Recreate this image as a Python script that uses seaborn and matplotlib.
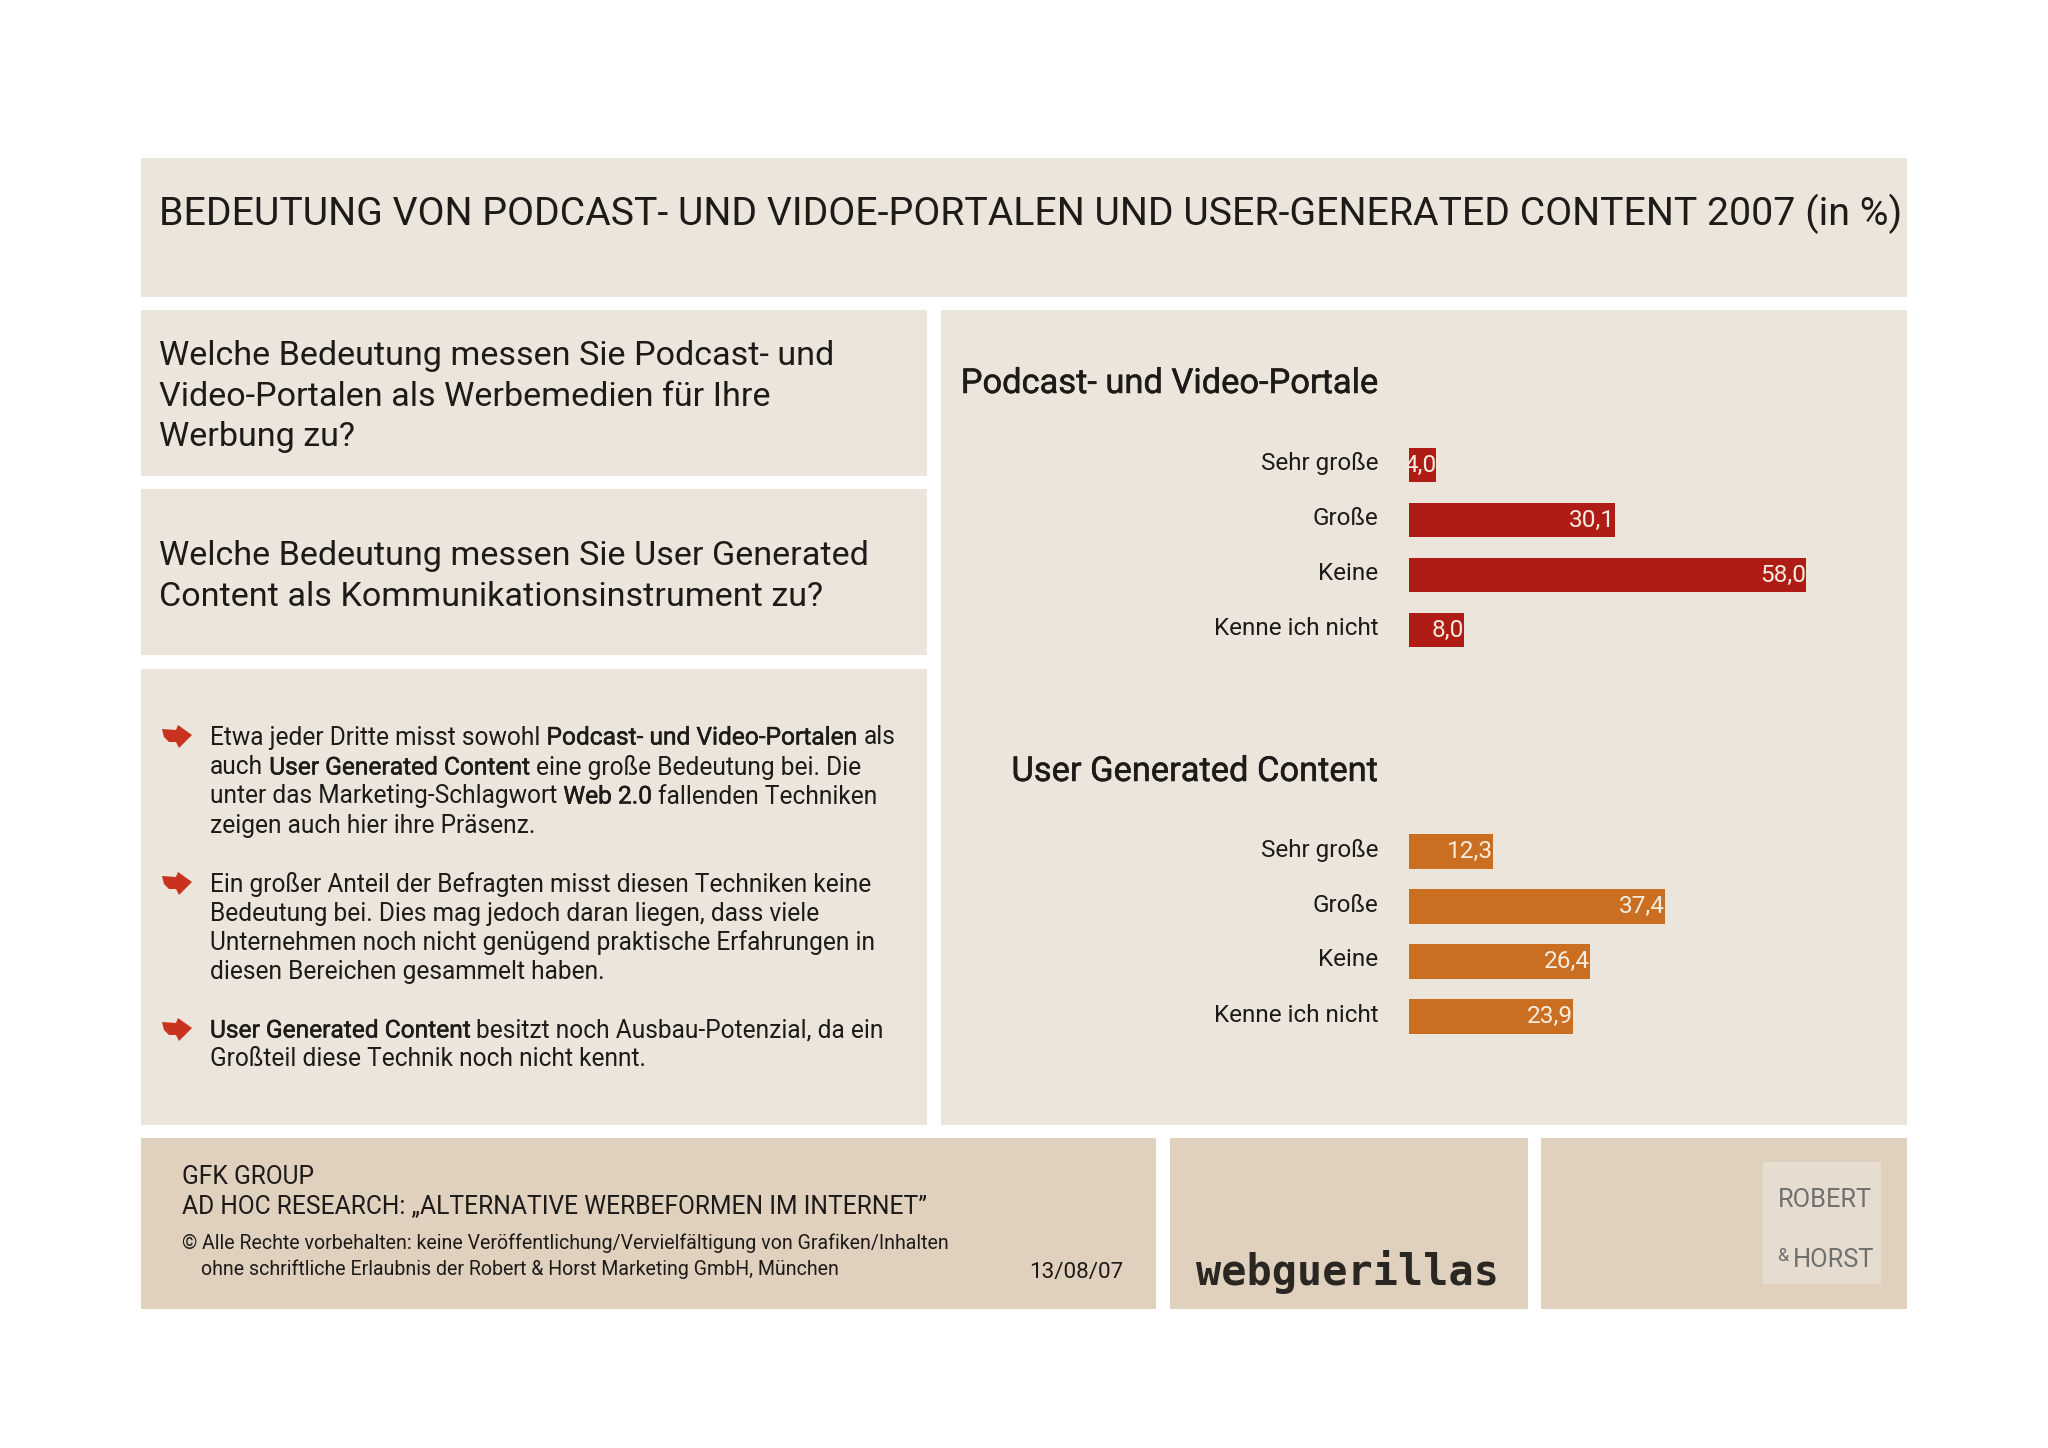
import matplotlib
matplotlib.use("Agg")
import matplotlib.pyplot as plt
import matplotlib.patheffects as pe
import seaborn as sns
import pandas as pd
from matplotlib.patches import Rectangle, Polygon
from matplotlib.transforms import ScaledTranslation

categories = ["Sehr große", "Große", "Keine", "Kenne ich nicht"]
podcast_values = [4.0, 30.1, 58.0, 8.0]
ugc_values = [12.3, 37.4, 26.4, 23.9]
podcast_title = "Podcast- und Video-Portale"
ugc_title = "User Generated Content"
chart_title = "BEDEUTUNG VON PODCAST- UND VIDOE-PORTALEN UND USER-GENERATED CONTENT 2007 (in %)"
question_1 = ["Welche Bedeutung messen Sie Podcast- und", "Video-Portalen als Werbemedien für Ihre", "Werbung zu?"]
question_2 = ["Welche Bedeutung messen Sie User Generated", "Content als Kommunikationsinstrument zu?"]
body_lines = [
    (737.5, [("Etwa jeder Dritte misst sowohl", 0), ("Podcast- und Video-Portalen", 1), ("als", 0)]),
    (767.5, [("auch", 0), ("User Generated Content", 1), ("eine große Bedeutung bei. Die", 0)]),
    (796.5, [("unter das Marketing-Schlagwort", 0), ("Web 2.0", 1), ("fallenden Techniken", 0)]),
    (826.5, [("zeigen auch hier ihre Präsenz.", 0)]),
    (884.5, [("Ein großer Anteil der Befragten misst diesen Techniken keine", 0)]),
    (913.5, [("Bedeutung bei. Dies mag jedoch daran liegen, dass viele", 0)]),
    (942.5, [("Unternehmen noch nicht genügend praktische Erfahrungen in", 0)]),
    (972.5, [("diesen Bereichen gesammelt haben.", 0)]),
    (1030.5, [("User Generated Content", 1), ("besitzt noch Ausbau-Potenzial, da ein", 0)]),
    (1059.5, [("Großteil diese Technik noch nicht kennt.", 0)]),
]

W, H, DPI = 2048, 1448, 100
INK = "#1d1a18"
PANEL = "#ebe5db"
FOOT = "#e0d1be"
RED = "#ae1c15"
ORANGE = "#ca6f22"
FONT = "Roboto"
MEDIUM = [pe.withStroke(linewidth=0.35, foreground=INK)]

sns.set_theme(style="white")
plt.rcParams["font.family"] = [FONT, "DejaVu Sans"]

fig = plt.figure(figsize=(W / DPI, H / DPI), dpi=DPI, facecolor="white")
bg = fig.add_axes([0, 0, 1, 1], zorder=0)
bg.set_xlim(0, W)
bg.set_ylim(H, 0)
bg.axis("off")

panels = [
    (141, 158, 1907, 296.5, PANEL), (141, 309.5, 927, 475.5, PANEL), (141, 488.5, 927, 655, PANEL),
    (141, 669, 927, 1124.5, PANEL), (941, 309.5, 1907, 1124.5, PANEL),
    (141, 1137.5, 1156, 1308.5, FOOT), (1170, 1137.5, 1528, 1308.5, FOOT), (1541, 1137.5, 1907, 1308.5, FOOT),
    (1763, 1162, 1881, 1284, "#e6dccf"),
]
for x0, y0, x1, y1, c in panels:
    bg.add_patch(Rectangle((x0, y0), x1 - x0, y1 - y0, fc=c, ec="none"))


def put(x, y, s, size, ha="left", color=INK, medium=False, **kw):
    t = bg.text(x, y, s, fontsize=size, ha=ha, va="center", color=color, **kw)
    if medium:
        t.set_path_effects(MEDIUM)
    return t


put(159, 214, chart_title, 28.3)
for y, s in zip([356, 397, 437], question_1):
    put(159, y, s, 24.6)
for y, s in zip([556, 597], question_2):
    put(159, y, s, 24.6)
put(1379, 384, podcast_title, 24.8, ha="right", medium=True)
put(1379, 772, ugc_title, 24.8, ha="right", medium=True)

renderer = fig.canvas.get_renderer()


def width(s, size):
    t = bg.text(0, 0, s, fontsize=size)
    w = t.get_window_extent(renderer).width
    t.remove()
    return w


BODY = 17.65
gap = width("n n", BODY) - width("nn", BODY)
for y, runs in body_lines:
    x = 210
    for s, b in runs:
        put(x, y, s, BODY, medium=bool(b))
        x += width(s, BODY) + gap

arrow = [(0, -6), (14, -5), (16, -10), (30, 0), (17, 13), (14, 7), (7, 7), (2, 2)]
for yc in [735, 882, 1028]:
    bg.add_patch(Polygon([(162 + dx, yc + dy) for dx, dy in arrow], fc="#c8321f", ec="none"))

put(182, 1177.5, "GFK GROUP", 17.7)
put(182, 1206.5, "AD HOC RESEARCH: „ALTERNATIVE WERBEFORMEN IM INTERNET”", 17.7)
put(182, 1243.5, "© Alle Rechte vorbehalten: keine Veröffentlichung/Vervielfältigung von Grafiken/Inhalten", 14.05)
put(201, 1269.5, "ohne schriftliche Erlaubnis der Robert & Horst Marketing GmbH, München", 14.05)
put(1123, 1272.5, "13/08/07", 16.2, ha="right")
put(1347, 1272.5, "webguerillas", 30.2, ha="center", fontweight="bold", family="DejaVu Sans Mono", color="#2a2622")
put(1825, 1200, "ROBERT", 18.3, ha="center", color="#6f706f")
put(1783, 1256, "&", 13, ha="center", color="#6f706f")
put(1834, 1260, "HORST", 18.3, ha="center", color="#6f706f")


def bar_axes(top, bottom, values, color):
    left, scale = 1409, 6.85
    right = left + 60 * scale
    ax = fig.add_axes([left / W, 1 - bottom / H, (right - left) / W, (bottom - top) / H], zorder=2)
    ax.patch.set_alpha(0)
    df = pd.DataFrame({"Bedeutung": categories, "Anteil": values})
    sns.barplot(data=df, x="Anteil", y="Bedeutung", color=color, saturation=1, width=0.63,
                linewidth=0, ax=ax, errorbar=None)
    ax.set_xlim(0, 60)
    ax.set_xlabel("")
    ax.set_ylabel("")
    ax.set_xticks([])
    sns.despine(ax=ax, left=True, bottom=True)
    ax.tick_params(axis="y", length=0, pad=22, labelsize=17.5, labelcolor=INK)
    lift = ScaledTranslation(0, 4 / DPI, fig.dpi_scale_trans)
    for lab in ax.get_yticklabels():
        lab.set_transform(lab.get_transform() + lift)
    labels = [f"{v:.1f}".replace(".", ",") for v in values]
    for t in ax.bar_label(ax.containers[0], labels=labels, padding=0, color="#f6ecdf", fontsize=17.6):
        t.set_ha("right")
    return ax


bar_axes(437.5, 657.5, podcast_values, RED)
bar_axes(824, 1044, ugc_values, ORANGE)

fig.savefig("out.png", dpi=DPI, facecolor="white")
